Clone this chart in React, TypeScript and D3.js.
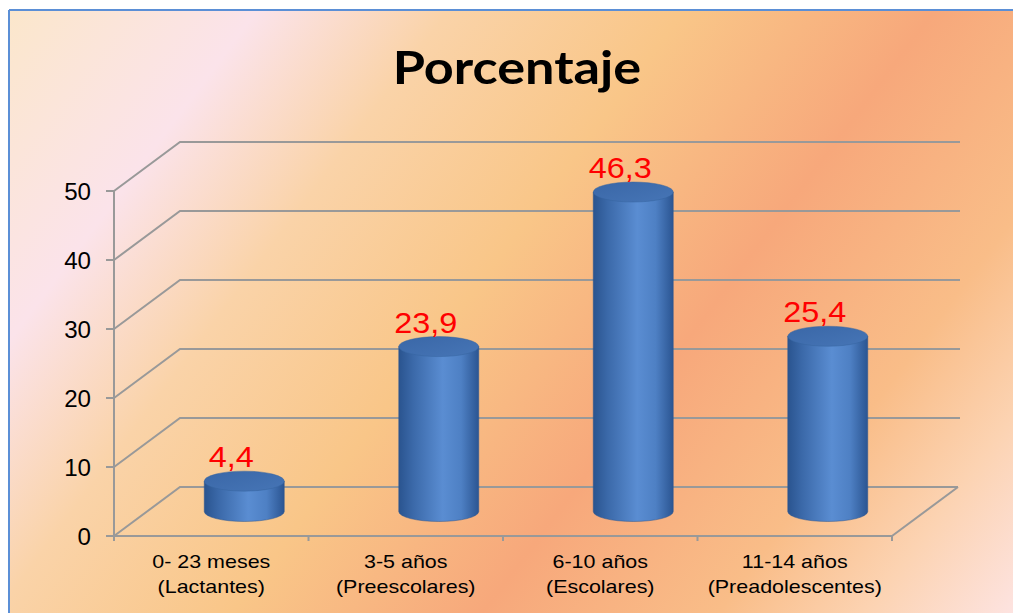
import React from "react";
import * as d3 from "d3";

// Chart data
const groups = ["0- 23 meses", "3-5 años", "6-10 años", "11-14 años"];
const groupNames = ["(Lactantes)", "(Preescolares)", "(Escolares)", "(Preadolescentes)"];
const percentages = [4.4, 23.9, 46.3, 25.4];
const yTicks = [0, 10, 20, 30, 40, 50];
const title = "Porcentaje";

const W = 1013;
const H = 613;

// 3D box geometry
const DEPTH_X = 66;
const DEPTH_Y = -49;
const BACK_RIGHT = 960;
const BAR_RX = 40;
const BAR_RY = 10;

const x = d3.scaleBand<string>().domain(groups).range([114, 892]).padding(0);
const y = d3.scaleLinear().domain([0, 50]).range([536, 191]);

const fmt = (v: number) => d3.format(".1f")(v).replace(".", ",");

const GRID = "#999999";
const TEXT_SX = 1.13;

function StretchText(props: {
  x: number;
  y: number;
  sx?: number;
  anchor?: string;
  size: number;
  family: string;
  weight?: string | number;
  fill: string;
  children: React.ReactNode;
}) {
  const { x: tx, y: ty, sx = TEXT_SX, anchor = "middle", size, family, weight = "normal", fill, children } = props;
  return (
    <text
      transform={`translate(${tx},${ty}) scale(${sx},1)`}
      textAnchor={anchor}
      fontSize={size}
      fontFamily={family}
      fontWeight={weight}
      fill={fill}
    >
      {children}
    </text>
  );
}

function Cylinder({ cx, base, top }: { cx: number; base: number; top: number }) {
  const l = cx - BAR_RX;
  const r = cx + BAR_RX;
  const body = `M${l},${top} L${l},${base} A${BAR_RX},${BAR_RY} 0 0 0 ${r},${base} L${r},${top} Z`;
  return (
    <g>
      <path d={body} fill="url(#cylSide)" stroke="#2c5590" strokeOpacity={0.5} strokeWidth={1} />
      <ellipse cx={cx} cy={top} rx={BAR_RX} ry={BAR_RY} fill="url(#cylTop)" stroke="#35639f" strokeOpacity={0.6} strokeWidth={0.8} />
    </g>
  );
}

export default function App() {
  const x0 = x.range()[0];
  const x1 = x.range()[1];
  const y0 = y(0);
  const floorBack = y0 + DEPTH_Y;

  return (
    <svg
      width={W}
      height={H}
      style={{ position: "absolute", left: 0, top: 0, display: "block" }}
    >
      <defs>
        <linearGradient id="bg" gradientUnits="userSpaceOnUse" x1={0} y1={0} x2={942} y2={707}>
          <stop offset="0" stopColor="#fbe7c9" />
          <stop offset="0.18" stopColor="#fbe3ea" />
          <stop offset="0.31" stopColor="#fad3a8" />
          <stop offset="0.47" stopColor="#f9c688" />
          <stop offset="0.64" stopColor="#f7a87b" />
          <stop offset="0.8" stopColor="#f9bd88" />
          <stop offset="0.9" stopColor="#fcd3b2" />
          <stop offset="1" stopColor="#fde3e0" />
        </linearGradient>
        <linearGradient id="cylSide" x1="0" y1="0" x2="1" y2="0">
          <stop offset="0" stopColor="#2a548f" />
          <stop offset="0.18" stopColor="#3b69a9" />
          <stop offset="0.55" stopColor="#5a8dd2" />
          <stop offset="0.78" stopColor="#4e80c4" />
          <stop offset="1" stopColor="#2b5592" />
        </linearGradient>
        <linearGradient id="cylTop" x1="0" y1="0" x2="1" y2="1">
          <stop offset="0" stopColor="#3a67a7" />
          <stop offset="1" stopColor="#4675b6" />
        </linearGradient>
      </defs>

      <rect x={0} y={0} width={W} height={H} fill="#ffffff" />
      <rect x={9} y={10} width={W - 9} height={H - 10} fill="url(#bg)" />
      <line x1={9} y1={10} x2={W} y2={10} stroke="#5b8fd6" strokeWidth={2} />
      <line x1={9} y1={10} x2={9} y2={H} stroke="#5b8fd6" strokeWidth={2} />

      <StretchText x={517} y={84} size={45} family="Lato, 'Open Sans', sans-serif" weight="bold" fill="#000" sx={1.16}>
        {title}
      </StretchText>

      {/* back wall gridlines with their side-wall diagonals */}
      {yTicks.map((t) => (
        <polyline
          key={`g${t}`}
          points={`${x0},${y(t)} ${x0 + DEPTH_X},${y(t) + DEPTH_Y} ${t === 0 ? x1 + DEPTH_X : BACK_RIGHT},${y(t) + DEPTH_Y}`}
          fill="none"
          stroke={GRID}
          strokeWidth={2}
        />
      ))}
      {/* floor right edge */}
      <line x1={x1} y1={y0} x2={x1 + DEPTH_X} y2={floorBack} stroke={GRID} strokeWidth={2} />

      {/* value axis */}
      <line x1={x0} y1={y(50)} x2={x0} y2={y0} stroke={GRID} strokeWidth={2} />
      {yTicks.map((t) => (
        <g key={`t${t}`}>
          <line x1={x0 - 8} y1={y(t)} x2={x0} y2={y(t)} stroke={GRID} strokeWidth={2} />
          <StretchText x={91} y={y(t) + 8.5} anchor="end" size={23} family="'Liberation Sans', Arial, sans-serif" fill="#000" sx={1.05}>
            {t}
          </StretchText>
        </g>
      ))}

      {/* category axis */}
      <line x1={x0} y1={y0} x2={x1} y2={y0} stroke={GRID} strokeWidth={2} />
      {[...groups.map((g) => x(g) as number), x1].map((px, i) => (
        <line key={`c${i}`} x1={px} y1={y0} x2={px} y2={y0 + 5} stroke={GRID} strokeWidth={2} />
      ))}

      {/* cylinders */}
      {groups.map((g, i) => {
        const cx = (x(g) as number) + x.bandwidth() / 2 + DEPTH_X / 2;
        const base = y0 + DEPTH_Y / 2;
        const top = y(percentages[i]) + DEPTH_Y / 2;
        return <Cylinder key={g} cx={cx} base={base} top={top} />;
      })}

      {/* value labels */}
      {groups.map((g, i) => {
        const cx = (x(g) as number) + x.bandwidth() / 2 + DEPTH_X / 2;
        const top = y(percentages[i]) + DEPTH_Y / 2;
        return (
          <StretchText key={`v${g}`} x={cx - 13} y={top - BAR_RY - 4} size={30} family="'Liberation Sans', Arial, sans-serif" fill="#ff0000" sx={1.08}>
            {fmt(percentages[i])}
          </StretchText>
        );
      })}

      {/* category labels */}
      {groups.map((g, i) => {
        const cx = (x(g) as number) + x.bandwidth() / 2;
        return (
          <g key={`l${g}`}>
            <StretchText x={cx} y={568} size={19} family="'Liberation Sans', Arial, sans-serif" fill="#000">
              {g}
            </StretchText>
            <StretchText x={cx} y={593} size={19} family="'Liberation Sans', Arial, sans-serif" fill="#000">
              {groupNames[i]}
            </StretchText>
          </g>
        );
      })}
    </svg>
  );
}
